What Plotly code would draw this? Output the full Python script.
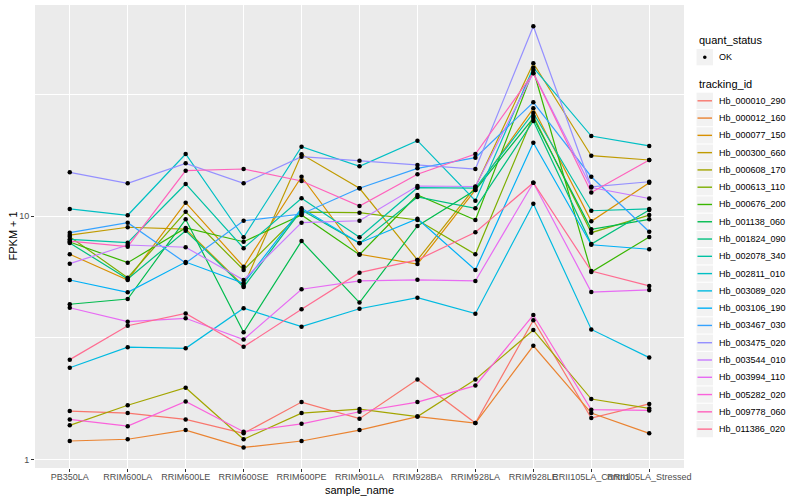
import plotly.graph_objects as go

samples = ["PB350LA", "RRIM600LA", "RRIM600LE", "RRIM600SE", "RRIM600PE", "RRIM901LA",
           "RRIM928BA", "RRIM928LA", "RRIM928LE", "RRII105LA_Control", "RRII105LA_Stressed"]

tracking_ids = ["Hb_000010_290", "Hb_000012_160", "Hb_000077_150", "Hb_000300_660", "Hb_000608_170",
                "Hb_000613_110", "Hb_000676_200", "Hb_001138_060", "Hb_001824_090", "Hb_002078_340",
                "Hb_002811_010", "Hb_003089_020", "Hb_003106_190", "Hb_003467_030", "Hb_003475_020",
                "Hb_003544_010", "Hb_003994_110", "Hb_005282_020", "Hb_009778_060", "Hb_011386_020"]

colors = ["#F8766D", "#EA8331", "#D89000", "#C09B00", "#A3A500", "#7CAE00", "#39B600", "#00BB4E",
          "#00BF7D", "#00C1A3", "#00BFC4", "#00BAE0", "#00B0F6", "#35A2FF", "#9590FF", "#C77CFF",
          "#E76BF3", "#FA62DB", "#FF62BC", "#FF6C91"]

# FPKM + 1 per sample
Hb_000010_290 = [1.58, 1.55, 1.46, 1.28, 1.72, 1.47, 2.13, 1.41, 3.73, 1.48, 1.69]
Hb_000012_160 = [1.19, 1.21, 1.32, 1.12, 1.19, 1.32, 1.50, 1.41, 2.93, 1.55, 1.28]
Hb_000077_150 = [6.96, 5.46, 11.34, 6.19, 14.50, 6.96, 6.35, 12.79, 27.70, 9.51, 13.70]
Hb_000300_660 = [8.35, 8.99, 8.84, 5.16, 17.93, 13.00, 6.60, 13.16, 42.40, 17.69, 16.99]
Hb_000608_170 = [1.38, 1.67, 1.97, 1.21, 1.55, 1.61, 1.50, 2.13, 3.40, 1.77, 1.62]
Hb_000613_110 = [8.22, 5.58, 10.41, 6.00, 10.38, 10.32, 9.63, 6.96, 25.76, 8.54, 10.09]
Hb_000676_200 = [7.82, 6.43, 8.93, 7.84, 10.09, 6.93, 12.20, 9.63, 39.80, 5.89, 8.20]
Hb_001138_060 = [4.34, 4.56, 9.69, 3.33, 7.89, 4.41, 9.10, 12.79, 25.27, 8.82, 9.69]
Hb_001824_090 = [7.75, 5.51, 8.70, 5.11, 10.58, 7.72, 11.97, 10.76, 24.56, 7.67, 10.58]
Hb_002078_340 = [8.02, 7.77, 13.54, 7.37, 11.82, 8.18, 13.07, 13.03, 26.50, 10.51, 10.69]
Hb_002811_010 = [10.69, 10.07, 17.98, 8.18, 19.27, 16.00, 20.39, 11.56, 40.67, 21.31, 19.40]
Hb_003089_020 = [2.38, 2.89, 2.86, 4.18, 3.51, 4.16, 4.62, 3.97, 11.23, 3.42, 2.62]
Hb_003106_190 = [5.46, 4.86, 6.47, 5.29, 10.76, 7.75, 9.75, 6.00, 20.01, 7.62, 7.30]
Hb_003467_030 = [8.54, 9.39, 6.41, 9.56, 10.19, 13.00, 15.70, 17.36, 29.32, 14.50, 8.62]
Hb_003475_020 = [15.12, 13.62, 16.46, 13.62, 17.52, 16.88, 16.20, 15.60, 60.18, 13.19, 13.83]
Hb_003544_010 = [6.37, 7.60, 7.44, 5.46, 9.39, 9.56, 13.28, 13.22, 38.68, 13.09, 11.80]
Hb_003994_110 = [4.20, 3.68, 3.80, 3.11, 5.00, 5.41, 5.47, 5.41, 13.70, 4.87, 4.97]
Hb_005282_020 = [1.46, 1.37, 1.73, 1.30, 1.40, 1.57, 1.72, 2.01, 3.92, 1.60, 1.59]
Hb_009778_060 = [7.89, 7.48, 15.35, 15.60, 13.93, 10.99, 14.84, 17.98, 38.58, 12.49, 16.99]
Hb_011386_020 = [2.57, 3.54, 3.98, 2.90, 4.14, 5.85, 6.60, 8.57, 13.70, 5.94, 5.16]

series = [Hb_000010_290, Hb_000012_160, Hb_000077_150, Hb_000300_660, Hb_000608_170,
          Hb_000613_110, Hb_000676_200, Hb_001138_060, Hb_001824_090, Hb_002078_340,
          Hb_002811_010, Hb_003089_020, Hb_003106_190, Hb_003467_030, Hb_003475_020,
          Hb_003544_010, Hb_003994_110, Hb_005282_020, Hb_009778_060, Hb_011386_020]

W, H = 800, 500
ML, MR, MT, MB = 35, 116, 5, 32
PW, PH = W - ML - MR, H - MT - MB


def px(x):
    return (x - ML) / PW


def py(y):
    return (H - MB - y) / PH


FONT = "Liberation Sans, Arial, Helvetica, sans-serif"

fig = go.Figure()

for name, vals, col in zip(tracking_ids, series, colors):
    fig.add_trace(go.Scatter(x=samples, y=vals, mode="lines", name=name,
                             line=dict(color=col, width=1.2), showlegend=False,
                             hoverinfo="skip"))
for name, vals in zip(tracking_ids, series):
    fig.add_trace(go.Scatter(x=samples, y=vals, mode="markers", name=name,
                             marker=dict(color="black", size=4.5), showlegend=False))

shapes = []
annotations = []

# axis titles
annotations.append(dict(text="sample_name", x=px((34.5 + 684) / 2), y=py(489.5), xref="paper", yref="paper",
                        showarrow=False, xanchor="center", yanchor="middle",
                        font=dict(family=FONT, size=11, color="black")))
annotations.append(dict(text="FPKM + 1", x=px(12), y=py(236.5), xref="paper", yref="paper",
                        showarrow=False, xanchor="center", yanchor="middle", textangle=-90,
                        font=dict(family=FONT, size=11, color="black")))

# legend: quant_status
annotations.append(dict(text="quant_status", x=px(696.5), y=py(40), xref="paper", yref="paper",
                        showarrow=False, xanchor="left", yanchor="middle",
                        font=dict(family=FONT, size=11, color="black")))
shapes.append(dict(type="rect", xref="paper", yref="paper", x0=px(696.5), x1=px(713), y0=py(49), y1=py(65.3),
                   fillcolor="#F2F2F2", line=dict(width=0), layer="below"))
shapes.append(dict(type="circle", xref="paper", yref="paper", x0=px(703), x1=px(706.6), y0=py(55.4), y1=py(59),
                   fillcolor="black", line=dict(width=0)))
annotations.append(dict(text="OK", x=px(716.5), y=py(57.3), xref="paper", yref="paper",
                        showarrow=False, xanchor="left", yanchor="middle",
                        font=dict(family=FONT, size=9, color="black")))

# legend: tracking_id
annotations.append(dict(text="tracking_id", x=px(696.5), y=py(84.3), xref="paper", yref="paper",
                        showarrow=False, xanchor="left", yanchor="middle",
                        font=dict(family=FONT, size=11, color="black")))
for i, (name, col) in enumerate(zip(tracking_ids, colors)):
    cy = 100.8 + 17.28 * i
    shapes.append(dict(type="rect", xref="paper", yref="paper", x0=px(696.5), x1=px(713),
                       y0=py(cy - 8.1), y1=py(cy + 8.1), fillcolor="#F2F2F2", line=dict(width=0), layer="below"))
    shapes.append(dict(type="line", xref="paper", yref="paper", x0=px(697.5), x1=px(712), y0=py(cy), y1=py(cy),
                       line=dict(color=col, width=1.4)))
    annotations.append(dict(text=name, x=px(716.5), y=py(cy), xref="paper", yref="paper",
                            showarrow=False, xanchor="left", yanchor="middle",
                            font=dict(family=FONT, size=9, color="black")))

fig.update_layout(
    width=W, height=H,
    margin=dict(l=ML, r=MR, t=MT, b=MB, pad=0),
    paper_bgcolor="white", plot_bgcolor="#EBEBEB",
    font=dict(family=FONT, size=9, color="#4D4D4D"),
    showlegend=False,
    shapes=shapes, annotations=annotations,
    xaxis=dict(type="category", categoryorder="array", categoryarray=samples,
               range=[-0.6, 10.6], showgrid=True, gridcolor="white", gridwidth=1.1,
               ticks="outside", ticklen=3, tickwidth=1, tickcolor="#333333",
               ticklabelstandoff=-3,
               tickangle=0, tickfont=dict(family=FONT, size=9, color="#4D4D4D"),
               zeroline=False, showline=False, automargin=False, fixedrange=True),
    yaxis=dict(type="log", range=[-0.0353, 1.8669], tickvals=[1, 10], ticktext=["1", "10"],
               showgrid=True, gridcolor="white", gridwidth=1.1,
               minor=dict(tickvals=[3.1623, 31.623], showgrid=True, gridcolor="white", gridwidth=0.55,
                          ticks=""),
               ticks="outside", ticklen=3, tickwidth=1, tickcolor="#333333",
               tickfont=dict(family=FONT, size=9, color="#4D4D4D"),
               zeroline=False, showline=False, automargin=False, fixedrange=True),
)

fig.write_html("out.html", config={"displayModeBar": False},
               post_script="document.body.style.margin='0';document.body.style.padding='0';")
